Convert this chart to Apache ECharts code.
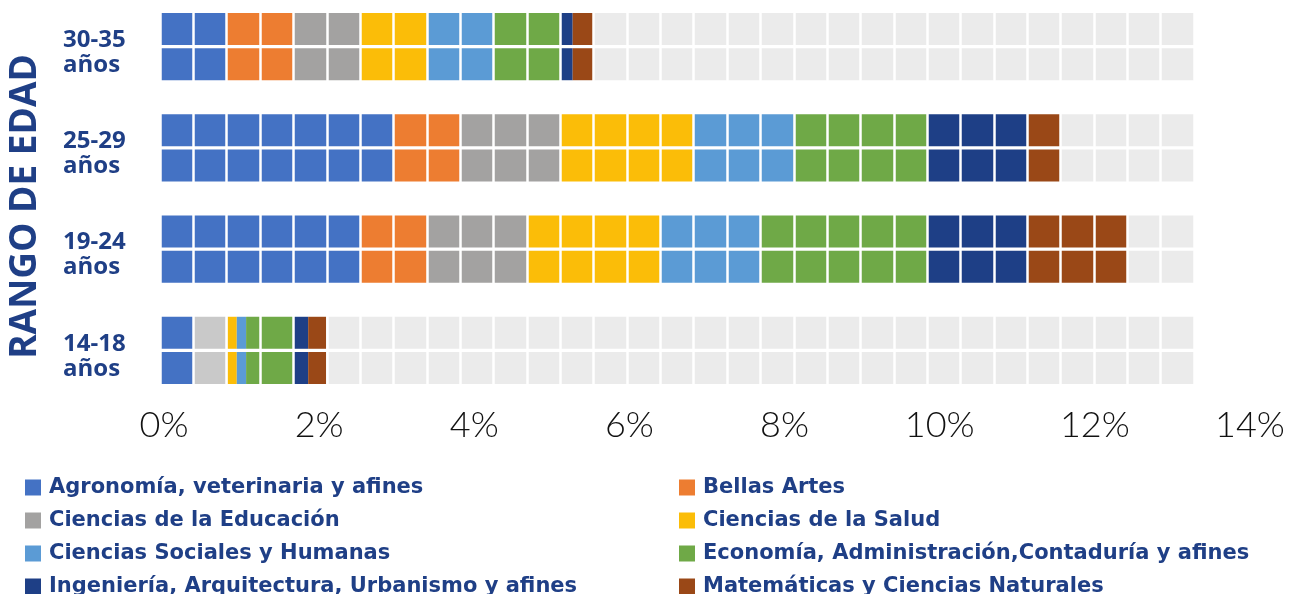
<!DOCTYPE html>
<html>
<head>
<meta charset="utf-8">
<script src="https://cdn.jsdelivr.net/npm/echarts@6/dist/echarts.min.js"></script>
<style>html,body{margin:0;padding:0;background:#fff;}#c{width:1289px;height:594px;}</style>
</head>
<body>
<div id="c"></div>
<script>
// Categories (bottom to top)
const categories = ['14-18\naños', '19-24\naños', '25-29\naños', '30-35\naños'];
const fields = [
  'Agronomía, veterinaria y afines',
  'Bellas Artes',
  'Ciencias de la Educación',
  'Ciencias de la Salud',
  'Ciencias Sociales y Humanas',
  'Economía, Administración,Contaduría y afines',
  'Ingeniería, Arquitectura, Urbanismo y afines',
  'Matemáticas y Ciencias Naturales'
];
// Values (%) per field, ordered as categories
const agronomia   = [0.43, 2.58, 3.01, 0.86];
const bellasArtes = [0.00, 0.86, 0.86, 0.86];
const educacion   = [0.44, 1.29, 1.29, 0.86];
const salud       = [0.12, 1.72, 1.72, 0.86];
const sociales    = [0.12, 1.29, 1.29, 0.86];
const economia    = [0.61, 2.15, 1.72, 0.86];
const ingenieria  = [0.19, 1.29, 1.29, 0.16];
const matematicas = [0.23, 1.29, 0.43, 0.27];
const backgroundLength = 13.33;   // light-grey track length (%)
const cellUnit = 0.43;            // width of one cell (%)
const xTicks = { min: 0, max: 14, interval: 2 };

const values = [agronomia, bellasArtes, educacion, salud, sociales, economia, ingenieria, matematicas];
const colors = ['#4472C4', '#ED7D31', '#A3A2A1', '#FBBD08', '#5B9BD5', '#6FA947', '#1E3F86', '#9A4817'];
const navy = '#1F3F86';
const font = 'Open Sans';

const series = [];
['a', 'b'].forEach(stack => {
  values.forEach((vals, i) => {
    series.push({
      type: 'bar', name: fields[i], stack: stack, barWidth: 32, barGap: '10%',
      itemStyle: { color: colors[i] },
      data: vals.map((v, j) => (i === 2 && j === 0) ? { value: v, itemStyle: { color: '#C9C9C9' } } : v)
    });
  });
  series.push({
    type: 'bar', name: 'resto', stack: stack, barWidth: 32, barGap: '10%',
    itemStyle: { color: '#EBEBEB' }, silent: true,
    data: categories.map((_, j) => +(backgroundLength - values.reduce((s, arr) => s + arr[j], 0)).toFixed(2))
  });
});

const legendCommon = {
  orient: 'vertical', icon: 'rect', itemWidth: 16, itemHeight: 16, itemGap: 12, height: 140, padding: 0,
  textStyle: { fontFamily: 'DejaVu Sans', fontSize: 21, fontWeight: 'bold', color: navy, lineHeight: 20, padding: [0, 0, 0, 3] }
};

const chart = echarts.init(document.getElementById('c'));
chart.setOption({
  animation: false,
  grid: { left: 160, width: 1086, top: -4, height: 405, outerBoundsMode: 'none', containLabel: false },
  legend: [
    Object.assign({ left: 25, top: 477, data: [fields[0], fields[2], fields[4], fields[6]] }, legendCommon),
    Object.assign({ left: 679, top: 477, data: [fields[1], fields[3], fields[5], fields[7]] }, legendCommon)
  ],
  xAxis: [
    {
      type: 'value', min: xTicks.min, max: xTicks.max, interval: xTicks.interval,
      axisLine: { show: false }, axisTick: { show: false }, splitLine: { show: false },
      axisLabel: { formatter: '{value}%', fontFamily: 'Lato', fontWeight: 300, fontSize: 36, color: '#111', margin: 6, padding: [0, 0, 0, 8] }
    },
    {
      type: 'value', position: 'top', min: 0, max: xTicks.max, interval: cellUnit, z: 10,
      axisLine: { show: false }, axisTick: { show: false }, axisLabel: { show: false },
      splitLine: { show: true, lineStyle: { color: '#ffffff', width: 2.5 } }
    }
  ],
  yAxis: {
    type: 'category', data: categories,
    axisLine: { show: false }, axisTick: { show: false },
    axisLabel: {
      align: 'left', margin: 97,
      formatter: v => '{s| }\n' + v.split('\n').map(t => '{a|' + t + '}').join('\n'),
      rich: {
        s: { fontSize: 10, lineHeight: 12 },
        a: { fontFamily: font, fontSize: 24, fontWeight: 'bold', color: navy, lineHeight: 25 }
      }
    },
    name: 'RANGO DE EDAD', nameLocation: 'middle', nameGap: 116, nameRotate: 90, nameMoveOverlap: false,
    nameTextStyle: { fontFamily: font, fontSize: 37, fontWeight: 'bold', color: navy, padding: [0, 16, 0, 0] }
  },
  series: series
});
</script>
</body>
</html>
